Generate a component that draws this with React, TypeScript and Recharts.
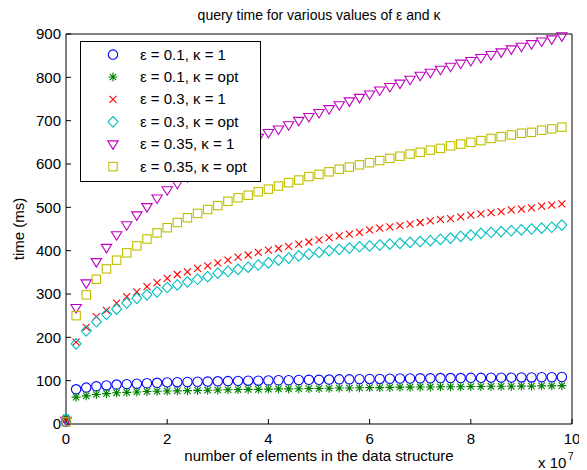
import { ScatterChart, Scatter, XAxis, YAxis, Legend } from "recharts"

// x in units of 10^7 elements
const xValues = [
  0, 0.2, 0.4, 0.6, 0.8, 1, 1.2, 1.4, 1.6, 1.8, 2, 2.2, 2.4, 2.6, 2.8, 3, 3.2, 3.4, 3.6, 3.8, 4, 4.2, 4.4, 4.6, 4.8,
  5, 5.2, 5.4, 5.6, 5.8, 6, 6.2, 6.4, 6.6, 6.8, 7, 7.2, 7.4, 7.6, 7.8, 8, 8.2, 8.4, 8.6, 8.8, 9, 9.2, 9.4, 9.6, 9.8,
]

const eps01k1 = [
  5, 80, 84, 87, 89, 91, 92, 93, 94, 95, 96, 96.5, 97, 97.5, 98, 98.5, 99, 99.5, 100, 100, 100.5, 101, 101, 101.5, 102,
  102, 102.5, 103, 103, 103.5, 104, 104, 104.5, 105, 105, 105.5, 105.5, 106, 106, 106, 106.5, 106.5, 107, 107, 107,
  107.5, 107.5, 108, 108, 108.5,
]
const eps01kOpt = [
  14, 62, 65, 68, 70, 72, 73, 74, 75, 75.5, 76, 76.5, 77, 77.5, 78, 78.5, 79, 79.5, 80, 80, 80.5, 81, 81, 81.5, 82, 82,
  82.5, 83, 83, 83.5, 84, 84, 84.5, 85, 85, 85.5, 85.5, 86, 86, 86, 86.5, 86.5, 87, 87, 87, 87.5, 87.5, 88, 88, 88.5,
]
const eps03k1 = [
  10, 189, 223, 248, 262, 279, 294, 305, 317, 326, 336, 345, 351, 359, 365, 372, 378, 385, 390, 396, 401, 405, 410, 415,
  420, 425, 430, 434, 438, 442, 448, 452, 455, 458, 461, 465, 469, 472, 474, 478, 482, 485, 488, 490, 494, 496, 499, 503,
  505, 508,
]
const eps03kOpt = [
  12, 185, 215, 236, 253, 265, 279, 290, 298, 305, 315, 321, 328, 334, 340, 348, 352, 357, 362, 367, 372, 378, 383, 388,
  392, 396, 400, 403, 406, 409, 411, 413, 415, 417, 419, 421, 423, 426, 429, 433, 436, 440, 442, 444, 446, 448, 450, 452,
  454, 459,
]
const eps035k1 = [
  8, 268, 325, 374, 407, 436, 459, 482, 501, 521, 540, 555, 570, 585, 599, 612, 625, 637, 648, 661, 672, 680, 690, 700,
  709, 718, 727, 736, 745, 753, 761, 770, 778, 786, 795, 804, 811, 818, 825, 832, 838, 845, 852, 858, 865, 871, 877, 883,
  888, 895,
]
const eps035kOpt = [
  5, 250, 298, 334, 358, 378, 395, 411, 427, 441, 453, 465, 476, 486, 495, 504, 514, 522, 528, 536, 542, 549, 557, 563,
  571, 576, 582, 588, 593, 598, 603, 608, 613, 618, 623, 627, 632, 636, 642, 646, 650, 654, 659, 663, 667, 671, 673, 678,
  681, 685,
]

const seriesNames = [
  "ε = 0.1, κ = 1",
  "ε = 0.1, κ = opt",
  "ε = 0.3, κ = 1",
  "ε = 0.3, κ = opt",
  "ε = 0.35, κ = 1",
  "ε = 0.35, κ = opt",
]

const xTicks = [0, 2, 4, 6, 8, 10]
const yTicks = [0, 100, 200, 300, 400, 500, 600, 700, 800, 900]

type MarkerKind = "circle" | "star" | "cross" | "diamond" | "triangle" | "square"

const series: { name: string; values: number[]; color: string; marker: MarkerKind }[] = [
  { name: seriesNames[0], values: eps01k1, color: "#0000ff", marker: "circle" },
  { name: seriesNames[1], values: eps01kOpt, color: "#008000", marker: "star" },
  { name: seriesNames[2], values: eps03k1, color: "#ff0000", marker: "cross" },
  { name: seriesNames[3], values: eps03kOpt, color: "#00bfbf", marker: "diamond" },
  { name: seriesNames[4], values: eps035k1, color: "#bf00bf", marker: "triangle" },
  { name: seriesNames[5], values: eps035kOpt, color: "#bfbf00", marker: "square" },
]

const FONT = '"Liberation Sans", Arial, Helvetica, sans-serif'

function Marker({ kind, cx, cy, color }: { kind: MarkerKind; cx: number; cy: number; color: string }) {
  const common = { fill: "none", stroke: color, strokeWidth: 1.1 }
  switch (kind) {
    case "circle":
      return <circle cx={cx} cy={cy} r={4.7} {...common} />
    case "star":
      return (
        <path
          d={`M${cx - 4.5},${cy}H${cx + 4.5}M${cx},${cy - 4.5}V${cy + 4.5}M${cx - 3.2},${cy - 3.2}L${cx + 3.2},${cy + 3.2}M${cx - 3.2},${cy + 3.2}L${cx + 3.2},${cy - 3.2}`}
          {...common}
        />
      )
    case "cross":
      return <path d={`M${cx - 3.5},${cy - 3.5}L${cx + 3.5},${cy + 3.5}M${cx - 3.5},${cy + 3.5}L${cx + 3.5},${cy - 3.5}`} {...common} />
    case "diamond":
      return <path d={`M${cx},${cy - 5.3}L${cx + 5},${cy}L${cx},${cy + 5.3}L${cx - 5},${cy}Z`} {...common} />
    case "triangle":
      return <path d={`M${cx - 5.2},${cy - 3.3}L${cx + 5.2},${cy - 3.3}L${cx},${cy + 5.2}Z`} {...common} />
    case "square":
      return <rect x={cx - 4.2} y={cy - 4.2} width={8.4} height={8.4} {...common} />
  }
}

function LegendBox() {
  return (
    <svg width={181} height={141} style={{ display: "block" }}>
      <rect x={0.5} y={0.5} width={180} height={140} fill="#fff" stroke="#000" strokeWidth={1} />
      {series.map((s, i) => {
        const cy = 13.6 + i * 22.4
        return (
          <g key={s.name}>
            <Marker kind={s.marker} cx={33} cy={cy} color={s.color} />
            <text x={60} y={cy + 5} fontSize={15} fontFamily={FONT} fill="#000">
              {s.name}
            </text>
          </g>
        )
      })}
    </svg>
  )
}

function XLabel({ viewBox }: any) {
  const { x, y, width } = viewBox
  return (
    <g fontFamily={FONT} fill="#000">
      <text x={x + width / 2} y={y + 37} textAnchor="middle" fontSize={15}>
        number of elements in the data structure
      </text>
      <text x={x + width - 34} y={y + 44} fontSize={15}>
        x 10
      </text>
      <text x={x + width - 4} y={y + 36} fontSize={10}>
        7
      </text>
    </g>
  )
}

function YLabel({ viewBox }: any) {
  const { x, y, height } = viewBox
  const lx = x + 16
  const ly = y + height / 2
  return (
    <text x={lx} y={ly} transform={`rotate(-90, ${lx}, ${ly})`} textAnchor="middle" fontSize={15} fontFamily={FONT} fill="#000">
      time (ms)
    </text>
  )
}

export default function App() {
  const tickStyle = { fill: "#000", fontSize: 15, fontFamily: FONT }
  return (
    <div style={{ position: "relative", width: 579, height: 462, fontFamily: FONT }}>
      <div
        style={{
          position: "absolute",
          left: 58,
          top: -2,
          width: 506,
          textAlign: "center",
          fontSize: 14,
          lineHeight: "18px",
          color: "#000",
          zIndex: 1,
        }}
      >
        query time for various values of ε and κ
      </div>
      <ScatterChart width={579} height={462} margin={{ top: 25, right: 14, bottom: 16, left: 0 }}>
        <XAxis
          type="number"
          dataKey="x"
          domain={[0, 10]}
          ticks={xTicks}
          height={30}
          tick={tickStyle}
          tickSize={-5}
          tickMargin={14}
          stroke="#000"
          label={XLabel}
        />
        <XAxis
          xAxisId="top"
          orientation="top"
          type="number"
          dataKey="x"
          domain={[0, 10]}
          ticks={xTicks}
          height={1}
          tick={false}
          tickSize={-5}
          stroke="#000"
        />
        <YAxis
          type="number"
          dataKey="y"
          domain={[0, 900]}
          ticks={yTicks}
          width={58}
          tick={tickStyle}
          tickSize={-5}
          tickMargin={10}
          stroke="#000"
          label={YLabel}
        />
        <YAxis
          yAxisId="right"
          orientation="right"
          type="number"
          dataKey="y"
          domain={[0, 900]}
          ticks={yTicks}
          width={1}
          tick={false}
          tickSize={-5}
          stroke="#000"
        />
        {series.map((s) => (
          <Scatter
            key={s.name}
            name={s.name}
            data={xValues.map((x, i) => ({ x, y: s.values[i] }))}
            isAnimationActive={false}
            shape={(p: any) => <Marker kind={s.marker} cx={p.cx} cy={p.cy} color={s.color} />}
          />
        ))}
        <Scatter
          xAxisId="top"
          yAxisId="right"
          data={[{ x: 0, y: 0 }]}
          isAnimationActive={false}
          legendType="none"
          shape={() => <g />}
        />
        <Legend
          layout="vertical"
          align="center"
          verticalAlign="middle"
          wrapperStyle={{ left: 72, top: 33, width: 181, height: 141 }}
          content={() => <LegendBox />}
        />
      </ScatterChart>
    </div>
  )
}
